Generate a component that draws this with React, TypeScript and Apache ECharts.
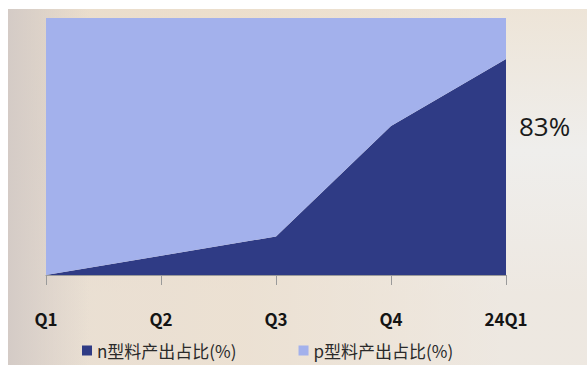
import React, { useEffect, useRef } from "react";
import * as echarts from "echarts";

const categories = ["Q1", "Q2", "Q3", "Q4", "24Q1"];
const nShare = [0, 7.5, 15, 58, 84];
const pShare = [100, 92.5, 85, 42, 16];
const seriesNames = ["n型料产出占比(%)", "p型料产出占比(%)"];
const endLabel = "83%";

export default function App() {
  const ref = useRef<HTMLDivElement>(null);
  useEffect(() => {
    if (!ref.current) return;
    const chart = echarts.init(ref.current, undefined, { renderer: "svg" });
    chart.setOption({
      animation: false,
      grid: { left: 38, top: 9, width: 460, height: 257 },
      xAxis: {
        type: "category",
        data: categories,
        boundaryGap: false,
        axisLine: { show: true, lineStyle: { color: "#9a9a9a", width: 1 } },
        axisTick: { show: true, length: 10, lineStyle: { color: "#9a9a9a" } },
        axisLabel: {
          margin: 35,
          color: "#141414",
          fontSize: 17,
          fontWeight: "bold",
          fontFamily: "Noto Sans CJK SC",
        },
      },
      yAxis: { type: "value", min: 0, max: 100, show: false, splitLine: { show: false } },
      legend: {
        left: 74,
        top: 333,
        itemGap: 62,
        itemWidth: 10,
        itemHeight: 10,
        icon: "rect",
        padding: 0,
        textStyle: { fontSize: 17, color: "#2a2a2a", fontFamily: "Noto Sans CJK SC" },
        data: seriesNames,
      },
      series: [
        {
          name: seriesNames[0],
          type: "line",
          stack: "total",
          data: nShare,
          symbol: "none",
          lineStyle: { width: 0 },
          itemStyle: { color: "#2f3b85" },
          areaStyle: { color: "#2f3b85", opacity: 1 },
        },
        {
          name: seriesNames[1],
          type: "line",
          stack: "total",
          data: pShare,
          symbol: "none",
          lineStyle: { width: 0 },
          itemStyle: { color: "#a3b1ec" },
          areaStyle: { color: "#a3b1ec", opacity: 1 },
        },
      ],
      graphic: [
        {
          type: "text",
          left: 511,
          top: 104,
          style: {
            text: endLabel,
            fontSize: 26,
            fill: "#1a1a1a",
            fontFamily: "Open Sans",
          },
        },
      ],
    });
    return () => chart.dispose();
  }, []);
  return (
    <div
      ref={ref}
      style={{
        position: "absolute",
        left: 8,
        top: 9,
        width: 579,
        height: 356,
        background:
          "linear-gradient(90deg, rgba(212,203,198,1) 0%, rgba(212,203,198,0) 14%), linear-gradient(180deg, rgba(236,222,202,0.6) 0%, rgba(236,222,202,0) 40%, rgba(236,226,214,0.5) 80%), linear-gradient(90deg, #e6dbcf 0%, #ebdfcf 40%, #eee7dd 65%, #efeeec 85%)",
      }}
    />
  );
}
